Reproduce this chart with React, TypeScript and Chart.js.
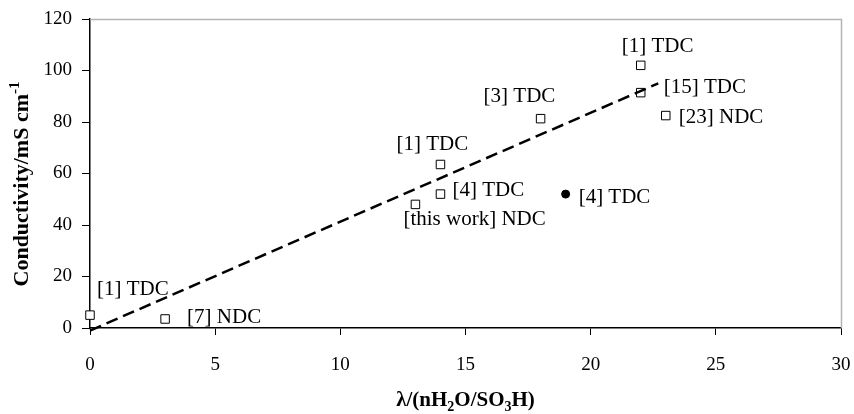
import React, { useEffect, useRef } from "react";
import { Chart, registerables } from "chart.js";

Chart.register(...registerables);

const squareX = [0, 3, 13, 14, 14, 18, 22, 22, 23];
const squareY = [5, 3.5, 48, 52, 63.5, 81.3, 102, 91.4, 82.5];
const squareLabels = [
  "[1] TDC",
  "[7] NDC",
  "[this work] NDC",
  "[4] TDC",
  "[1] TDC",
  "[3] TDC",
  "[1] TDC",
  "[15] TDC",
  "[23] NDC",
];
// label offsets in px relative to the point (left edge, vertical center)
const labelDX = [7, 22, -12, 12, -44, -57, -19, 23, 13];
const labelDY = [-26, -2, 15, -4, -20, -22, -19, -5, 2];

const circleX = [19];
const circleY = [52];
const circleLabels = ["[4] TDC"];
const circleDX = [13];
const circleDY = [3];

const trendX = [0, 22.7];
const trendY = [-1, 95];

const xTicks = [0, 5, 10, 15, 20, 25, 30];
const yTicks = [0, 20, 40, 60, 80, 100, 120];

const xTitleParts = [
  { t: "λ/(nH", s: 0 },
  { t: "2", s: 1 },
  { t: "O/SO", s: 0 },
  { t: "3", s: 1 },
  { t: "H)", s: 0 },
];
const yTitleParts = [
  { t: "Conductivity/mS cm", s: 0 },
  { t: "-1", s: -1 },
];

const FONT = "'Liberation Serif', 'Times New Roman', Times, serif";

function drawParts(
  ctx: any,
  parts: { t: string; s: number }[],
  cx: number,
  baseY: number,
  size: number
) {
  const big = `bold ${size}px ${FONT}`;
  const small = `bold ${Math.round(size * 0.66)}px ${FONT}`;
  let w = 0;
  parts.forEach((p) => {
    ctx.font = p.s === 0 ? big : small;
    w += ctx.measureText(p.t).width;
  });
  let x = cx - w / 2;
  parts.forEach((p) => {
    ctx.font = p.s === 0 ? big : small;
    const dy = p.s === 1 ? 5 : p.s === -1 ? -9 : 0;
    ctx.fillText(p.t, x, baseY + dy);
    x += ctx.measureText(p.t).width;
  });
}

export default function App() {
  const ref = useRef<HTMLCanvasElement | null>(null);

  useEffect(() => {
    document.body.style.margin = "0";
    const canvas = ref.current;
    if (!canvas) return;

    const labelPlugin = {
      id: "labels",
      beforeDatasetsDraw(chart: any) {
        const { ctx, chartArea } = chart;
        ctx.save();
        ctx.strokeStyle = "#b4b4b4";
        ctx.lineWidth = 1.5;
        ctx.beginPath();
        ctx.moveTo(chartArea.left, chartArea.top + 0.5);
        ctx.lineTo(chartArea.right + 0.5, chartArea.top + 0.5);
        ctx.lineTo(chartArea.right + 0.5, chartArea.bottom);
        ctx.stroke();
        ctx.restore();
      },
      afterDatasetsDraw(chart: any) {
        const { ctx, chartArea } = chart;
        const xs = chart.scales.x;
        const ys = chart.scales.y;
        ctx.save();
        ctx.font = `21px ${FONT}`;
        ctx.fillStyle = "#000";
        ctx.textBaseline = "middle";
        ctx.textAlign = "left";
        squareLabels.forEach((t, i) => {
          const px = xs.getPixelForValue(squareX[i]);
          const py = ys.getPixelForValue(squareY[i]);
          ctx.fillText(t, px + labelDX[i], py + labelDY[i]);
        });
        circleLabels.forEach((t, i) => {
          const px = xs.getPixelForValue(circleX[i]);
          const py = ys.getPixelForValue(circleY[i]);
          ctx.fillText(t, px + circleDX[i], py + circleDY[i]);
        });

        // axis titles
        ctx.textBaseline = "alphabetic";
        drawParts(ctx, xTitleParts, (chartArea.left + chartArea.right) / 2, 406, 21);
        ctx.save();
        ctx.translate(28, 184);
        ctx.rotate(-Math.PI / 2);
        drawParts(ctx, yTitleParts, 0, 0, 22);
        ctx.restore();
        ctx.restore();
      },
    };

    const chart = new Chart(canvas, {
      type: "scatter",
      data: {
        datasets: [
          {
            type: "line",
            data: trendX.map((x, i) => ({ x, y: trendY[i] })),
            borderColor: "#000",
            borderWidth: 2.5,
            borderDash: [12, 6],
            pointRadius: 0,
            fill: false,
            clip: false as any,
          },
          {
            data: squareX.map((x, i) => ({ x, y: squareY[i] })),
            pointStyle: "rect",
            pointRadius: 6,
            backgroundColor: "#fff",
            borderColor: "#000",
            borderWidth: 1,
            clip: false as any,
          },
          {
            data: circleX.map((x, i) => ({ x, y: circleY[i] })),
            pointStyle: "circle",
            pointRadius: 4,
            backgroundColor: "#000",
            borderColor: "#000",
            borderWidth: 1,
          },
        ],
      },
      options: {
        animation: false,
        responsive: false,
        events: [],
        layout: { padding: { left: 0, right: 13, top: 19, bottom: 0 } },
        plugins: {
          legend: { display: false },
          tooltip: { enabled: false },
        },
        scales: {
          x: {
            type: "linear",
            min: 0,
            max: 30,
            afterFit: (s: any) => {
              s.height = 86;
              s.paddingLeft = 0;
              s.paddingRight = 0;
            },
            afterBuildTicks: (s: any) => {
              s.ticks = xTicks.map((v) => ({ value: v }));
            },
            grid: {
              display: true,
              drawOnChartArea: false,
              drawTicks: true,
              tickLength: 7,
              color: "#000",
            },
            border: { display: true, color: "#000", width: 1.5 },
            ticks: {
              color: "#000",
              font: { family: FONT, size: 19 },
              padding: 19,
              maxRotation: 0,
            },
          },
          y: {
            type: "linear",
            min: 0,
            max: 120,
            afterFit: (s: any) => {
              s.width = 90;
              s.paddingTop = 0;
              s.paddingBottom = 0;
            },
            afterBuildTicks: (s: any) => {
              s.ticks = yTicks.map((v) => ({ value: v }));
            },
            grid: {
              display: true,
              drawOnChartArea: false,
              drawTicks: true,
              tickLength: 8,
              color: "#000",
            },
            border: { display: true, color: "#000", width: 1.5 },
            ticks: {
              color: "#000",
              font: { family: FONT, size: 19 },
              padding: 10,
            },
          },
        },
      },
      plugins: [labelPlugin],
    });

    return () => chart.destroy();
  }, []);

  return <canvas ref={ref} width={854} height={414} style={{ display: "block" }} />;
}
